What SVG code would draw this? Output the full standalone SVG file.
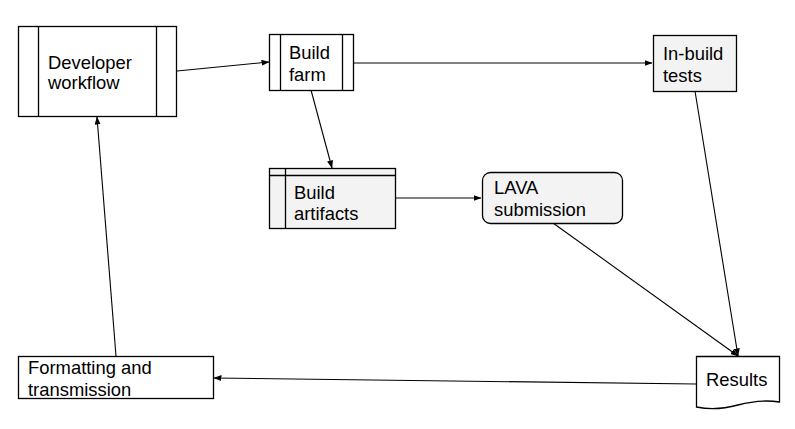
<svg xmlns="http://www.w3.org/2000/svg" width="795" height="429" viewBox="0 0 795 429">
<style>
.box{stroke:#000;stroke-width:1.3;}
.w{fill:#fff;}
.g{fill:#f3f3f3;}
.ln{stroke:#000;stroke-width:1.3;fill:none;}
.t{font-family:"Liberation Sans",Arial,sans-serif;font-size:18.4px;fill:#000;}
.c{stroke:#000;stroke-width:1.1;fill:none;marker-end:url(#ah);}
</style>
<defs>
<marker id="ah" markerWidth="8" markerHeight="6" refX="7.5" refY="3" orient="auto" markerUnits="userSpaceOnUse">
<path d="M0,0 L8,3 L0,6 Z" fill="#000"/>
</marker>
</defs>
<rect width="795" height="429" fill="#fff"/>
<g id="connectors">
<line class="c" x1="177" y1="71" x2="269" y2="62"/>
<line class="c" x1="353" y1="63" x2="652" y2="63"/>
<line class="c" x1="311" y1="90" x2="332" y2="168"/>
<line class="c" x1="395" y1="198" x2="481" y2="198"/>
<line class="c" x1="553" y1="223" x2="738" y2="356"/>
<line class="c" x1="695" y1="91" x2="738" y2="356"/>
<line class="c" x1="696" y1="384" x2="214" y2="378"/>
<line class="c" x1="116" y1="356" x2="97" y2="117"/>
</g>
<g id="developer-workflow">
<rect class="box w" x="18.5" y="26.5" width="158" height="90"/>
<line class="ln" x1="38.5" y1="26.5" x2="38.5" y2="116.5"/>
<line class="ln" x1="156.5" y1="26.5" x2="156.5" y2="116.5"/>
<text class="t" x="48" y="69">Developer</text>
<text class="t" x="48" y="89">workflow</text>
</g>
<g id="build-farm">
<rect class="box w" x="269.5" y="34.5" width="84" height="56"/>
<line class="ln" x1="280.5" y1="34.5" x2="280.5" y2="90.5"/>
<line class="ln" x1="342.5" y1="34.5" x2="342.5" y2="90.5"/>
<text class="t" x="289" y="59">Build</text>
<text class="t" x="289" y="81">farm</text>
</g>
<g id="build-artifacts">
<rect class="box g" x="269.5" y="168.5" width="126" height="60"/>
<line class="ln" x1="269.5" y1="175.5" x2="395.5" y2="175.5"/>
<line class="ln" x1="285.5" y1="168.5" x2="285.5" y2="228.5"/>
<text class="t" x="294" y="199">Build</text>
<text class="t" x="294" y="220">artifacts</text>
</g>
<g id="in-build-tests">
<rect class="box g" x="653.5" y="35.5" width="83" height="56"/>
<text class="t" x="663" y="60">In-build</text>
<text class="t" x="663" y="82">tests</text>
</g>
<g id="lava-submission">
<rect class="box g" x="482.5" y="172.5" width="140" height="51" rx="8" ry="8"/>
<text class="t" x="494" y="194">LAVA</text>
<text class="t" x="494" y="216">submission</text>
</g>
<g id="formatting-and-transmission">
<rect class="box w" x="18.5" y="356.5" width="195" height="42"/>
<text class="t" x="28" y="374">Formatting and</text>
<text class="t" x="28" y="396">transmission</text>
</g>
<g id="results">
<path class="box w" d="M696.5,356.5 H779.5 V402 Q760,399 738,405 Q716,411 696.5,407 Z"/>
<text class="t" x="706" y="386">Results</text>
</g>
</svg>
